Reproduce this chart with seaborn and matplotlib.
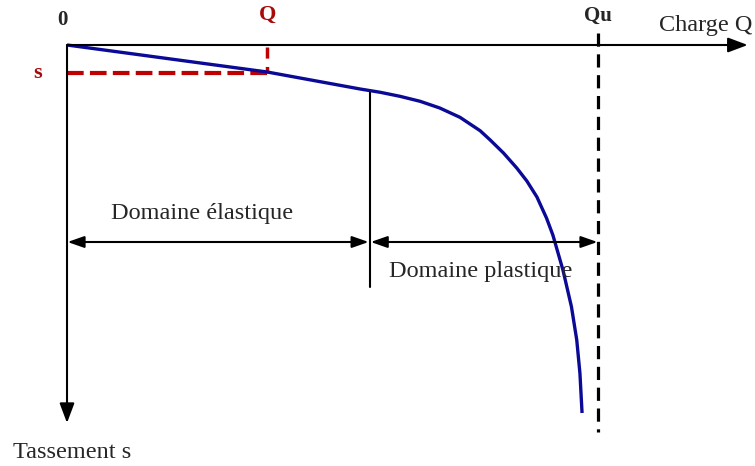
import matplotlib
matplotlib.use("Agg")
import matplotlib.pyplot as plt
import seaborn as sns
import pandas as pd

# Load-settlement curve of a pile: charge Q (relative, Qu = 100) vs settlement s
charge = [0, 37.7, 55.2, 59.0, 62.7, 66.5, 70.2, 74.0, 77.8, 79.7, 82.2, 84.7, 86.6,
          88.5, 90.3, 91.5, 93.4, 95.0, 96.0, 96.6, 97.0]
tassement = [0, 2.7, 4.4, 4.73, 5.13, 5.63, 6.3, 7.23, 8.57, 9.5, 10.8, 12.3, 13.6,
             15.2, 17.3, 19.0, 22.5, 26.17, 29.5, 32.83, 36.8]

q_service = 37.7     # Q
s_service = 2.8      # s
q_elastic = 57.0     # end of the elastic range
s_elastic = 4.55
q_ultime = 100.0     # Qu

labels = {
    "origin": "0",
    "q": "Q",
    "s": "s",
    "qu": "Qu",
    "xaxis": "Charge Q",
    "yaxis": "Tassement s",
    "elastic": "Domaine élastique",
    "plastic": "Domaine plastique",
}

sns.set_style("white")
plt.rcParams["font.family"] = ["Liberation Serif", "DejaVu Serif"]
plt.rcParams["lines.scale_dashes"] = False

fig = plt.figure(figsize=(7.55, 4.66), dpi=100)
ax = fig.add_axes([0, 0, 1, 1])
ax.set_xlim(-12.62, 129.57)
ax.set_ylim(42.1, -4.5)
ax.axis("off")

BLUE = "#0a0a96"
RED = "#c00000"
RED_TXT = "#a80a0a"

# axes with arrowheads
ax.annotate("", xy=(128.2, 0), xytext=(0, 0),
            arrowprops=dict(arrowstyle="-|>,head_length=1.2,head_width=0.45",
                            color="black", lw=1.5, shrinkA=0, shrinkB=0))
ax.annotate("", xy=(0, 37.8), xytext=(0, 0),
            arrowprops=dict(arrowstyle="-|>,head_length=1.2,head_width=0.45",
                            color="black", lw=1.5, shrinkA=0, shrinkB=0))

# ultimate load
ax.plot([q_ultime, q_ultime], [-1.2, 38.7], color="black", lw=2.3,
        linestyle=(0, (9.5, 5.5)))

# service point
ax.plot([0, q_service], [s_service, s_service], color=RED, lw=3.0,
        linestyle=(0, (12, 4.5)))
ax.plot([q_service, q_service], [0.2, s_service], color=RED, lw=2.5,
        linestyle=(0, (8, 6)))

# boundary between the two ranges
ax.plot([q_elastic, q_elastic], [s_elastic, 24.2], color="black", lw=1.5)

# range arrows
yd = 19.7
ax.annotate("", xy=(0.1, yd), xytext=(q_elastic - 0.2, yd),
            arrowprops=dict(arrowstyle="<|-|>,head_length=1.0,head_width=0.35",
                            color="black", lw=1.5, shrinkA=0, shrinkB=0))
ax.annotate("", xy=(q_elastic + 0.2, yd), xytext=(q_ultime - 0.1, yd),
            arrowprops=dict(arrowstyle="<|-|>,head_length=1.0,head_width=0.35",
                            color="black", lw=1.5, shrinkA=0, shrinkB=0))

# load-settlement curve
df = pd.DataFrame({"Q": charge, "s": tassement})
sns.lineplot(data=df, x="Q", y="s", sort=False, estimator=None,
             color=BLUE, lw=2.4, ax=ax, solid_joinstyle="round",
             solid_capstyle="butt")

# labels
ax.text(-0.94, -2.5, labels["origin"], fontsize=15, fontweight="bold",
        ha="center", va="center")
ax.text(q_service, -3.0, labels["q"], fontsize=16, fontweight="bold",
        color=RED_TXT, ha="center", va="center")
ax.text(-5.46, s_service, labels["s"], fontsize=16, fontweight="bold",
        color=RED_TXT, ha="center", va="center")
ax.text(q_ultime, -2.9, labels["qu"], fontsize=15, fontweight="bold",
        ha="center", va="center")
ax.text(120.2, -2.0, labels["xaxis"], fontsize=17.5, ha="center", va="center")
ax.text(0.94, 40.8, labels["yaxis"], fontsize=17.5, ha="center", va="center")
ax.text(25.4, 16.8, labels["elastic"], fontsize=17.5, ha="center", va="center")
ax.text(78.0, 22.7, labels["plastic"], fontsize=17.5, ha="center", va="center")

fig.savefig("out.png", dpi=100)
